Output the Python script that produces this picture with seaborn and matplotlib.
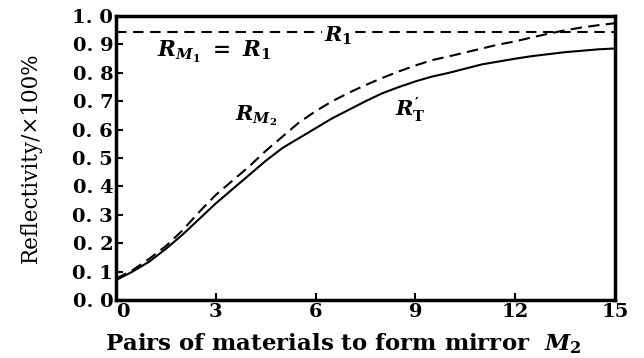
import matplotlib
matplotlib.use("Agg")
import matplotlib.pyplot as plt
import seaborn as sns
import pandas as pd

pairs = [0, 0.5, 1, 1.5, 2, 2.5, 3, 3.5, 4, 4.5, 5, 5.5, 6, 6.5, 7, 7.5,
         8, 8.5, 9, 9.5, 10, 10.5, 11, 11.5, 12, 12.5, 13, 13.5, 14, 14.5, 15]
r_t = [0.07, 0.10, 0.135, 0.18, 0.23, 0.285, 0.34, 0.39, 0.44, 0.49, 0.535, 0.57,
       0.605, 0.64, 0.67, 0.70, 0.728, 0.75, 0.77, 0.787, 0.80, 0.815, 0.83, 0.84,
       0.85, 0.859, 0.866, 0.873, 0.878, 0.883, 0.886]
r_m2 = [0.075, 0.105, 0.145, 0.19, 0.245, 0.31, 0.37, 0.42, 0.47, 0.525, 0.575, 0.625,
        0.665, 0.70, 0.73, 0.757, 0.782, 0.805, 0.826, 0.845, 0.858, 0.872, 0.886, 0.90,
        0.911, 0.925, 0.938, 0.95, 0.96, 0.968, 0.975]
r1_value = 0.944
x_ticks = [0, 3, 6, 9, 12, 15]
y_ticks = [0.0, 0.1, 0.2, 0.3, 0.4, 0.5, 0.6, 0.7, 0.8, 0.9, 1.0]
y_tick_labels = ["0. 0", "0. 1", "0. 2", "0. 3", "0. 4", "0. 5",
                 "0. 6", "0. 7", "0. 8", "0. 9", "1. 0"]

sns.set_theme(style="ticks")
plt.rcParams["font.family"] = ["DejaVu Serif"]
plt.rcParams["mathtext.fontset"] = "custom"
plt.rcParams["mathtext.it"] = "DejaVu Serif:italic:bold"
plt.rcParams["mathtext.rm"] = "DejaVu Serif:bold"
plt.rcParams["mathtext.bf"] = "DejaVu Serif:bold"
for key in ["text.color", "axes.labelcolor", "xtick.color", "ytick.color", "axes.edgecolor"]:
    plt.rcParams[key] = "black"

df = pd.DataFrame({"pairs": pairs, "RT": r_t, "RM2": r_m2})
df_r1 = pd.DataFrame({"pairs": [pairs[0], pairs[-1]], "R1": [r1_value, r1_value]})

fig = plt.figure(figsize=(6.44, 3.58), dpi=100)
ax = fig.add_axes([0.180, 0.162, 0.775, 0.793])

sns.lineplot(data=df, x="pairs", y="RT", ax=ax, color="black", linewidth=1.5)
sns.lineplot(data=df, x="pairs", y="RM2", ax=ax, color="black", linewidth=1.5)
ax.lines[-1].set_dashes([5.5, 3])
sns.lineplot(data=df_r1, x="pairs", y="R1", ax=ax, color="black", linewidth=1.5)
ax.lines[-1].set_dashes([5, 3.2])

ax.set_xlim(0, 15)
ax.set_ylim(0, 1.0)
ax.set_xticks(x_ticks)
ax.set_yticks(y_ticks)
ax.set_yticklabels(y_tick_labels)
ax.tick_params(direction="in", length=5, width=1.5, labelsize=14, pad=2, colors="black")
for lab in ax.get_xticklabels() + ax.get_yticklabels():
    lab.set_fontweight("bold")
ax.get_xticklabels()[0].set_ha("left")
for sp in ax.spines.values():
    sp.set_visible(True)
    sp.set_linewidth(2.5)
    sp.set_color("black")

ax.set_xlabel("Pairs of materials to form mirror  $M_2$", fontsize=16.5, fontweight="bold")
ax.xaxis.set_label_coords(0.455, -0.11)
ax.set_ylabel("Reflectivity/\u00d7100%", fontsize=15.5, fontweight="normal")
ax.yaxis.set_label_coords(-0.148, 0.5)

ax.text(6.67, 0.93, "$R_1$", fontsize=15, ha="center", va="center",
        bbox=dict(facecolor="white", edgecolor="none", pad=1.0))
ax.text(1.23, 0.873, "$R_{M_1}\\ =\\ R_1$", fontsize=15.5, ha="left", va="center")
ax.text(3.58, 0.65, "$R_{M_2}$", fontsize=15, ha="left", va="center")
ax.text(8.39, 0.67, "$R_{\\mathrm{T}}'$", fontsize=15, ha="left", va="center")

fig.savefig("out.png", dpi=100)
